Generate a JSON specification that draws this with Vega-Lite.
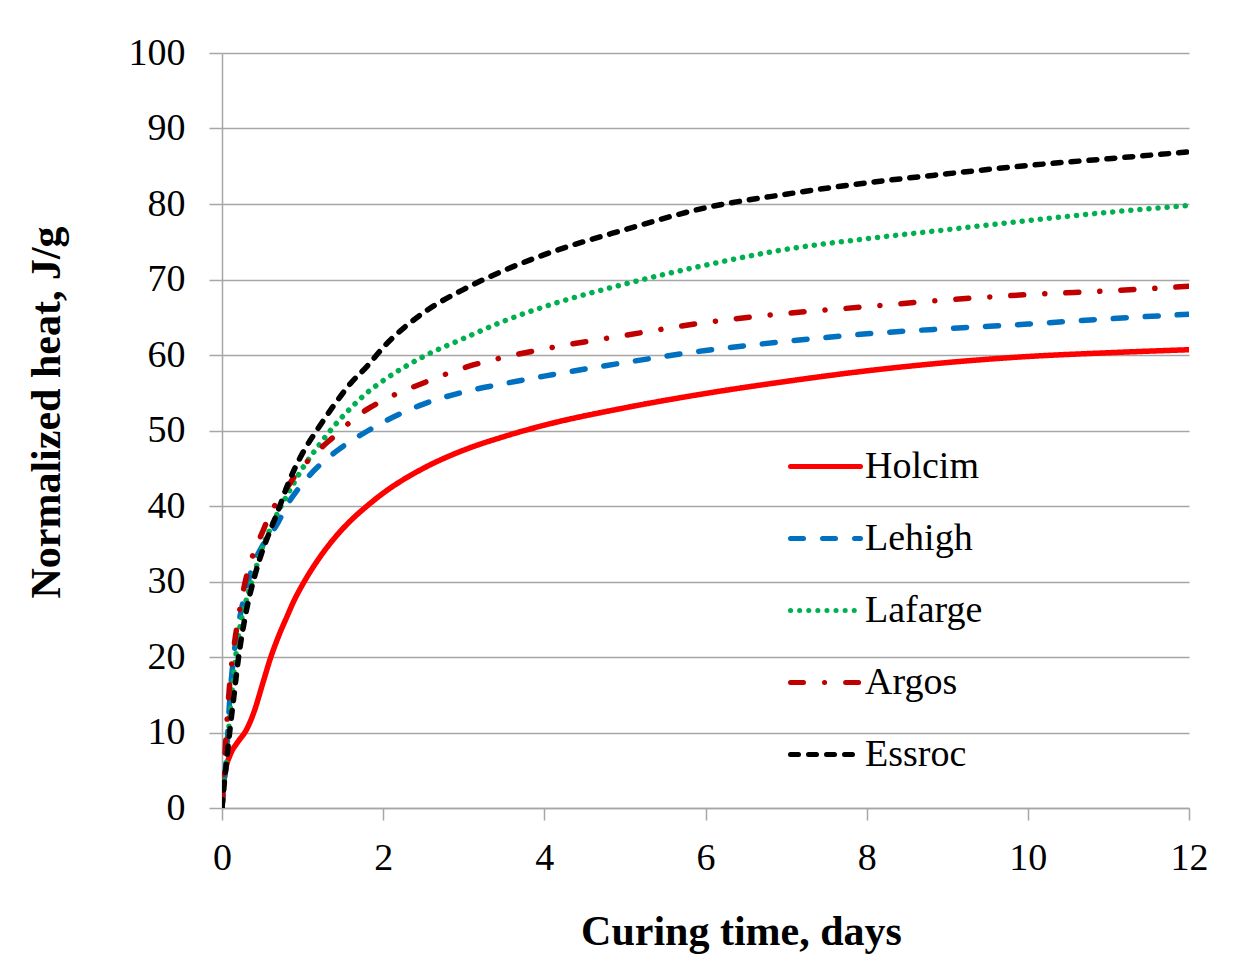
{
  "$schema": "https://vega.github.io/schema/vega-lite/v6.json",
  "width": 967,
  "height": 755,
  "autosize": {"type": "none"},
  "padding": {"left": 222, "top": 53, "right": 58, "bottom": 160},
  "background": "white",
  "config": {
    "view": {"stroke": null},
    "font": "Liberation Serif",
    "axis": {"labelFont": "Liberation Serif", "titleFont": "Liberation Serif", "labelColor": "black", "titleColor": "black"}
  },
  "data": {"values": [
    {"c":"Holcim","t":0,"q":0},{"c":"Holcim","t":0.02,"q":3},{"c":"Holcim","t":0.05,"q":5.3},{"c":"Holcim","t":0.1,"q":7},{"c":"Holcim","t":0.2,"q":8.8},{"c":"Holcim","t":0.3,"q":10.3},{"c":"Holcim","t":0.4,"q":12.8},{"c":"Holcim","t":0.5,"q":16.3},{"c":"Holcim","t":0.6,"q":19.8},{"c":"Holcim","t":0.7,"q":22.7},{"c":"Holcim","t":0.8,"q":25.2},{"c":"Holcim","t":0.9,"q":27.6},{"c":"Holcim","t":1.0,"q":29.6},{"c":"Holcim","t":1.2,"q":33},{"c":"Holcim","t":1.4,"q":35.8},{"c":"Holcim","t":1.6,"q":38.1},{"c":"Holcim","t":1.8,"q":40},{"c":"Holcim","t":2.0,"q":41.7},{"c":"Holcim","t":2.5,"q":45},{"c":"Holcim","t":3.0,"q":47.4},{"c":"Holcim","t":3.5,"q":49.2},{"c":"Holcim","t":4,"q":50.7},{"c":"Holcim","t":5,"q":53},{"c":"Holcim","t":6,"q":54.9},{"c":"Holcim","t":7,"q":56.5},{"c":"Holcim","t":8,"q":57.9},{"c":"Holcim","t":9,"q":59},{"c":"Holcim","t":10,"q":59.8},{"c":"Holcim","t":11,"q":60.3},{"c":"Holcim","t":12,"q":60.7},
    {"c":"Lehigh","t":0,"q":0},{"c":"Lehigh","t":0.02,"q":2.5},{"c":"Lehigh","t":0.05,"q":6},{"c":"Lehigh","t":0.1,"q":15},{"c":"Lehigh","t":0.15,"q":20.5},{"c":"Lehigh","t":0.2,"q":24},{"c":"Lehigh","t":0.3,"q":29},{"c":"Lehigh","t":0.4,"q":32.5},{"c":"Lehigh","t":0.5,"q":34.7},{"c":"Lehigh","t":0.6,"q":36.2},{"c":"Lehigh","t":0.7,"q":37.9},{"c":"Lehigh","t":0.8,"q":40},{"c":"Lehigh","t":0.9,"q":41.6},{"c":"Lehigh","t":1.0,"q":43},{"c":"Lehigh","t":1.2,"q":45.3},{"c":"Lehigh","t":1.4,"q":47.1},{"c":"Lehigh","t":1.6,"q":48.6},{"c":"Lehigh","t":1.8,"q":49.9},{"c":"Lehigh","t":2.0,"q":51.1},{"c":"Lehigh","t":2.5,"q":53.5},{"c":"Lehigh","t":3.0,"q":55.1},{"c":"Lehigh","t":3.5,"q":56.2},{"c":"Lehigh","t":4,"q":57.2},{"c":"Lehigh","t":5,"q":59},{"c":"Lehigh","t":6,"q":60.6},{"c":"Lehigh","t":7,"q":61.8},{"c":"Lehigh","t":8,"q":62.8},{"c":"Lehigh","t":9,"q":63.5},{"c":"Lehigh","t":10,"q":64.1},{"c":"Lehigh","t":11,"q":64.8},{"c":"Lehigh","t":12,"q":65.4},
    {"c":"Lafarge","t":0,"q":0},{"c":"Lafarge","t":0.05,"q":6},{"c":"Lafarge","t":0.1,"q":12.6},{"c":"Lafarge","t":0.2,"q":22.5},{"c":"Lafarge","t":0.3,"q":27.5},{"c":"Lafarge","t":0.4,"q":31},{"c":"Lafarge","t":0.5,"q":34.5},{"c":"Lafarge","t":0.6,"q":37},{"c":"Lafarge","t":0.7,"q":39.3},{"c":"Lafarge","t":0.8,"q":41.3},{"c":"Lafarge","t":0.9,"q":43.2},{"c":"Lafarge","t":1.0,"q":45},{"c":"Lafarge","t":1.2,"q":48},{"c":"Lafarge","t":1.4,"q":50.7},{"c":"Lafarge","t":1.6,"q":53},{"c":"Lafarge","t":1.8,"q":55},{"c":"Lafarge","t":2.0,"q":56.6},{"c":"Lafarge","t":2.5,"q":59.8},{"c":"Lafarge","t":3.0,"q":62.2},{"c":"Lafarge","t":3.5,"q":64.5},{"c":"Lafarge","t":4,"q":66.4},{"c":"Lafarge","t":5,"q":69.4},{"c":"Lafarge","t":6,"q":71.9},{"c":"Lafarge","t":7,"q":74},{"c":"Lafarge","t":8,"q":75.4},{"c":"Lafarge","t":9,"q":76.6},{"c":"Lafarge","t":10,"q":77.8},{"c":"Lafarge","t":11,"q":78.9},{"c":"Lafarge","t":12,"q":79.8},
    {"c":"Argos","t":0,"q":0},{"c":"Argos","t":0.02,"q":4},{"c":"Argos","t":0.05,"q":9.5},{"c":"Argos","t":0.1,"q":17},{"c":"Argos","t":0.15,"q":21.5},{"c":"Argos","t":0.2,"q":25},{"c":"Argos","t":0.3,"q":30.5},{"c":"Argos","t":0.4,"q":34},{"c":"Argos","t":0.5,"q":36.5},{"c":"Argos","t":0.6,"q":39},{"c":"Argos","t":0.7,"q":40.8},{"c":"Argos","t":0.8,"q":42.3},{"c":"Argos","t":0.9,"q":43.9},{"c":"Argos","t":1.0,"q":45.2},{"c":"Argos","t":1.2,"q":47.4},{"c":"Argos","t":1.4,"q":49.3},{"c":"Argos","t":1.6,"q":51.2},{"c":"Argos","t":1.8,"q":52.8},{"c":"Argos","t":2.0,"q":54},{"c":"Argos","t":2.5,"q":56.3},{"c":"Argos","t":3.0,"q":58.3},{"c":"Argos","t":3.5,"q":59.7},{"c":"Argos","t":4,"q":60.8},{"c":"Argos","t":5,"q":62.6},{"c":"Argos","t":6,"q":64.3},{"c":"Argos","t":7,"q":65.5},{"c":"Argos","t":8,"q":66.4},{"c":"Argos","t":9,"q":67.3},{"c":"Argos","t":10,"q":68},{"c":"Argos","t":11,"q":68.5},{"c":"Argos","t":12,"q":69.1},
    {"c":"Essroc","t":0,"q":0},{"c":"Essroc","t":0.02,"q":2.4},{"c":"Essroc","t":0.05,"q":5.5},{"c":"Essroc","t":0.1,"q":10.5},{"c":"Essroc","t":0.15,"q":15},{"c":"Essroc","t":0.2,"q":19.5},{"c":"Essroc","t":0.3,"q":26},{"c":"Essroc","t":0.4,"q":30.5},{"c":"Essroc","t":0.5,"q":34},{"c":"Essroc","t":0.6,"q":36.8},{"c":"Essroc","t":0.7,"q":39.5},{"c":"Essroc","t":0.8,"q":42.4},{"c":"Essroc","t":0.9,"q":44.9},{"c":"Essroc","t":1.0,"q":47},{"c":"Essroc","t":1.2,"q":50.4},{"c":"Essroc","t":1.4,"q":53.5},{"c":"Essroc","t":1.6,"q":56.3},{"c":"Essroc","t":1.8,"q":58.5},{"c":"Essroc","t":2.0,"q":61},{"c":"Essroc","t":2.5,"q":65.6},{"c":"Essroc","t":3.0,"q":68.7},{"c":"Essroc","t":3.5,"q":71.2},{"c":"Essroc","t":4,"q":73.3},{"c":"Essroc","t":5,"q":76.6},{"c":"Essroc","t":6,"q":79.5},{"c":"Essroc","t":7,"q":81.3},{"c":"Essroc","t":8,"q":82.8},{"c":"Essroc","t":9,"q":84},{"c":"Essroc","t":10,"q":85.1},{"c":"Essroc","t":11,"q":86},{"c":"Essroc","t":12,"q":86.9}
  ]},
  "mark": {"type": "line", "interpolate": "monotone", "strokeWidth": 5.5, "strokeCap": "round", "clip": true},
  "encoding": {
    "x": {
      "field": "t", "type": "quantitative",
      "scale": {"domain": [0, 12], "nice": false},
      "axis": {
        "title": "Curing time, days",
        "values": [0, 2, 4, 6, 8, 10, 12],
        "grid": false, "labelFlush": false,
        "domainColor": "#a6a6a6", "domainWidth": 1.5,
        "tickColor": "#a6a6a6", "tickWidth": 1.5, "tickSize": 12,
        "labelFontSize": 38, "labelPadding": 19,
        "titleFontSize": 42, "titleFontWeight": "bold", "titlePadding": 34,
        "titleX": 519
      }
    },
    "y": {
      "field": "q", "type": "quantitative",
      "scale": {"domain": [0, 100], "nice": false},
      "axis": {
        "title": "Normalized heat, J/g",
        "values": [0, 10, 20, 30, 40, 50, 60, 70, 80, 90, 100],
        "grid": true, "gridColor": "#a6a6a6", "gridWidth": 1.5,
        "domainColor": "#a6a6a6", "domainWidth": 1.5,
        "tickColor": "#a6a6a6", "tickWidth": 1.5, "tickSize": 13,
        "labelFontSize": 38, "labelPadding": 24,
        "titleFontSize": 42, "titleFontWeight": "bold", "titlePadding": 60,
        "titleY": 359
      }
    },
    "color": {
      "field": "c", "type": "nominal",
      "scale": {"domain": ["Holcim", "Lehigh", "Lafarge", "Argos", "Essroc"], "range": ["#ff0000", "#0070c0", "#00b050", "#c00000", "#000000"]},
      "legend": {
        "title": null, "orient": "none", "legendX": 566, "legendY": 376,
        "symbolType": "stroke", "symbolSize": 4900, "symbolStrokeWidth": 5,
        "labelFontSize": 38, "labelFont": "Liberation Serif", "labelColor": "black",
        "labelOffset": 2, "rowPadding": 15,
        "encode": {"symbols": {"update": {"strokeCap": {"value": "round"}}}}
      }
    },
    "strokeDash": {
      "field": "c", "type": "nominal",
      "scale": {"domain": ["Holcim", "Lehigh", "Lafarge", "Argos", "Essroc"], "range": [[1, 0], [13, 19], [0.1, 9], [13, 21, 0.1, 21], [8, 10]]}
    }
  }
}
